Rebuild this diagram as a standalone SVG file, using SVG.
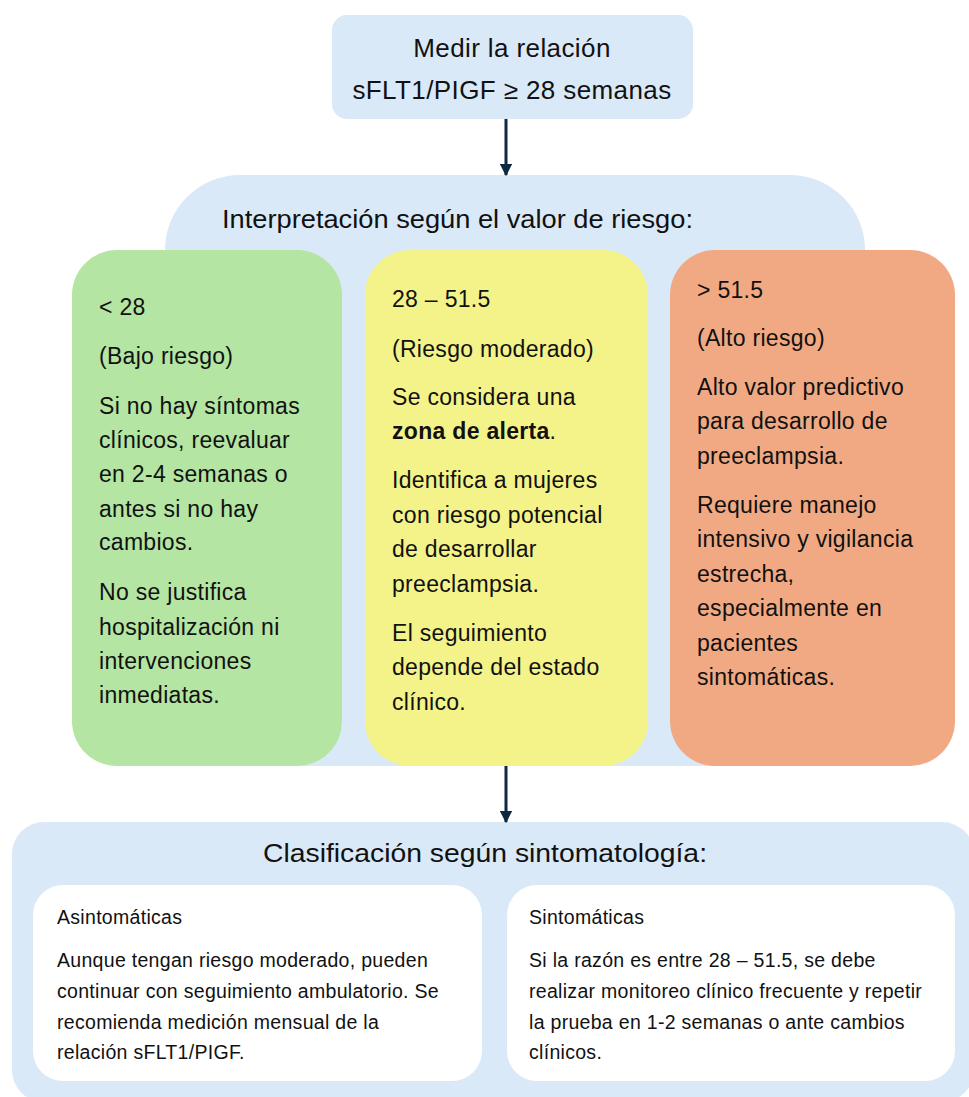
<svg xmlns="http://www.w3.org/2000/svg" width="969" height="1097" viewBox="0 0 969 1097">
<defs>
<marker id="ah" viewBox="0 0 10 10" refX="9" refY="5" markerWidth="4.2" markerHeight="4.2" orient="auto" markerUnits="strokeWidth">
<path d="M0,0 L10,5 L0,10 z" fill="#0e2841"/>
</marker>
<style>
.bg{fill:#dae9f7}
.t{font-family:"Liberation Sans",Arial,sans-serif;fill:#111}
.h{font-size:26px;letter-spacing:0.4px}
.title{font-size:26px}
.b{font-size:23px;letter-spacing:0.3px}
.s{font-size:19.5px;letter-spacing:0.3px}
.s2{font-size:19.5px;letter-spacing:0.3px}
.conn{stroke:#0e2841;stroke-width:3;fill:none}
</style>
</defs>
<rect width="969" height="1097" fill="#ffffff"/>

<g id="node-medir">
<rect class="bg" x="332" y="15" width="361" height="104" rx="15"/>
<text class="t h" x="512" y="57" text-anchor="middle">Medir la relación</text>
<text class="t h" x="512" y="99" text-anchor="middle">sFLT1/PIGF ≥ 28 semanas</text>
</g>

<g id="node-interpretacion">
<rect class="bg" x="165" y="175" width="700" height="591" rx="75"/>
<text class="t title" x="222" y="228" textLength="471" lengthAdjust="spacingAndGlyphs">Interpretación según el valor de riesgo:</text>
</g>

<g id="node-bajo">
<rect x="72" y="250" width="270" height="516" rx="45" fill="#b4e5a2"/>
<text class="t b" x="99" y="315">&lt; 28</text>
<text class="t b" x="99" y="364">(Bajo riesgo)</text>
<text class="t b" x="99" y="414">Si no hay síntomas</text>
<text class="t b" x="99" y="448">clínicos, reevaluar</text>
<text class="t b" x="99" y="482">en 2-4 semanas o</text>
<text class="t b" x="99" y="517">antes si no hay</text>
<text class="t b" x="99" y="550">cambios.</text>
<text class="t b" x="99" y="600">No se justifica</text>
<text class="t b" x="99" y="635">hospitalización ni</text>
<text class="t b" x="99" y="669">intervenciones</text>
<text class="t b" x="99" y="703">inmediatas.</text>
</g>

<g id="node-moderado">
<rect x="365" y="250" width="283" height="516" rx="45" fill="#f4f38a"/>
<text class="t b" x="392" y="307">28 – 51.5</text>
<text class="t b" x="392" y="357">(Riesgo moderado)</text>
<text class="t b" x="392" y="405">Se considera una</text>
<text class="t b" x="392" y="439"><tspan font-weight="bold">zona de alerta</tspan>.</text>
<text class="t b" x="392" y="488">Identifica a mujeres</text>
<text class="t b" x="392" y="523">con riesgo potencial</text>
<text class="t b" x="392" y="557">de desarrollar</text>
<text class="t b" x="392" y="592">preeclampsia.</text>
<text class="t b" x="392" y="641">El seguimiento</text>
<text class="t b" x="392" y="675">depende del estado</text>
<text class="t b" x="392" y="710">clínico.</text>
</g>

<g id="node-alto">
<rect x="670" y="250" width="285" height="516" rx="45" fill="#f1a983"/>
<text class="t b" x="697" y="298">&gt; 51.5</text>
<text class="t b" x="697" y="346">(Alto riesgo)</text>
<text class="t b" x="697" y="395">Alto valor predictivo</text>
<text class="t b" x="697" y="429">para desarrollo de</text>
<text class="t b" x="697" y="464">preeclampsia.</text>
<text class="t b" x="697" y="513">Requiere manejo</text>
<text class="t b" x="697" y="547">intensivo y vigilancia</text>
<text class="t b" x="697" y="582">estrecha,</text>
<text class="t b" x="697" y="616">especialmente en</text>
<text class="t b" x="697" y="651">pacientes</text>
<text class="t b" x="697" y="685">sintomáticas.</text>
</g>

<g id="node-clasificacion">
<rect class="bg" x="12" y="822" width="962" height="280" rx="32"/>
<text class="t title" x="485" y="862" text-anchor="middle" textLength="444" lengthAdjust="spacingAndGlyphs">Clasificación según sintomatología:</text>
</g>

<g id="node-asintomaticas">
<rect x="33" y="885" width="449" height="196" rx="30" fill="#ffffff"/>
<text class="t s2" x="57" y="924">Asintomáticas</text>
<text class="t s" x="57" y="967">Aunque tengan riesgo moderado, pueden</text>
<text class="t s" x="57" y="998">continuar con seguimiento ambulatorio. Se</text>
<text class="t s" x="57" y="1029">recomienda medición mensual de la</text>
<text class="t s" x="57" y="1059">relación sFLT1/PIGF.</text>
</g>

<g id="node-sintomaticas">
<rect x="507" y="885" width="448" height="196" rx="30" fill="#ffffff"/>
<text class="t s2" x="529" y="924">Sintomáticas</text>
<text class="t s" x="529" y="967">Si la razón es entre 28 – 51.5, se debe</text>
<text class="t s" x="529" y="998">realizar monitoreo clínico frecuente y repetir</text>
<text class="t s" x="529" y="1029">la prueba en 1-2 semanas o ante cambios</text>
<text class="t s" x="529" y="1059">clínicos.</text>
</g>

<g id="connectors">
<line class="conn" x1="506" y1="119" x2="506" y2="175" marker-end="url(#ah)"/>
<line class="conn" x1="506" y1="766" x2="506" y2="822" marker-end="url(#ah)"/>
</g>
</svg>
